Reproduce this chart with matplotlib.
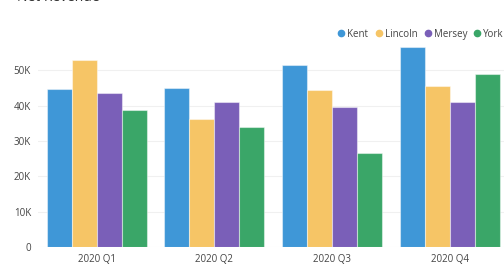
import matplotlib
matplotlib.use("Agg")
import matplotlib.pyplot as plt
import numpy as np
from matplotlib.ticker import FuncFormatter

categories = ["2020 Q1", "2020 Q2", "2020 Q3", "2020 Q4"]
series_names = ["Kent", "Lincoln", "Mersey", "York"]
kent = [44700, 45000, 51500, 56700]
lincoln = [52900, 36300, 44400, 45500]
mersey = [43500, 41100, 39600, 41100]
york = [38700, 34000, 26500, 49100]
values = [kent, lincoln, mersey, york]
colors = ["#3f97d7", "#f6c566", "#7a5fb8", "#3aa668"]
yticks = [0, 10000, 20000, 30000, 40000, 50000]

plt.rcParams['font.family'] = ['Open Sans', 'DejaVu Sans']

W, H = 504, 264
fig = plt.figure(figsize=(W / 100, H / 100), dpi=100)
ax = fig.add_axes([38 / W, 1 - 247 / H, 1 - 38 / W, (247 - 45) / H])

x = np.arange(len(categories))
bw = 0.2125
for i, (name, vals, c) in enumerate(zip(series_names, values, colors)):
    ax.bar(x + (i - 1.5) * bw, vals, width=bw, color=c, edgecolor=(1, 1, 1, 0.45),
           linewidth=0.8, zorder=3)

ax.set_xlim(-0.5, -0.5 + (W - 38) / 117.6)
ax.set_ylim(0, 57200)
ax.set_yticks(yticks)
ax.yaxis.set_major_formatter(FuncFormatter(lambda v, p: "0" if v == 0 else f"{int(v/1000)}K"))
ax.set_xticks(x)
ax.set_xticklabels(categories)
ax.tick_params(axis='both', length=0, labelsize=7, colors='#444444')
ax.tick_params(axis='x', pad=5)
ax.tick_params(axis='y', pad=5)
ax.grid(axis='y', color='#f0f0f0', linewidth=0.8, zorder=0)
for s in ax.spines.values():
    s.set_visible(False)

# title (cut off at top in reference)
fig.text(17 / W, 1 - 1 / H, "Net Revenue", fontsize=10, color='#333333', va='baseline', ha='left')

# legend
leg_x = [341, 379, 428, 477]
ly = 1 - 33 / H
for name, c, lx in zip(series_names, colors, leg_x):
    fig.lines.append(plt.Line2D([lx / W], [ly], marker='o', markersize=4.5, color=c,
                                linestyle='none', transform=fig.transFigure))
    fig.text((lx + 6) / W, ly, name, fontsize=7, color='#444444', va='center_baseline', ha='left')

fig.savefig("out.png", dpi=100)
